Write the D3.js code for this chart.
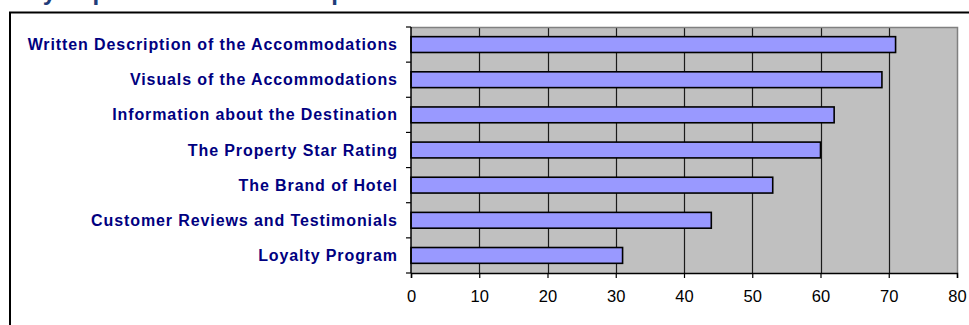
<!DOCTYPE html>
<html>
<head>
<meta charset="utf-8">
<script src="https://cdn.jsdelivr.net/npm/d3@7"></script>
<style>
  html, body { margin: 0; padding: 0; background: #fff; overflow: hidden; }
  svg { display: block; }
</style>
</head>
<body>
<svg id="chart" width="969" height="325"></svg>
<script>
const titleText = "Key Aspects of Hotel Descriptions";
const categories = [
  "Written Description of the Accommodations",
  "Visuals of the Accommodations",
  "Information about the Destination",
  "The Property Star Rating",
  "The Brand of Hotel",
  "Customer Reviews and Testimonials",
  "Loyalty Program"
];
const values = [71, 69, 62, 60, 53, 44, 31];
const xTicks = [0, 10, 20, 30, 40, 50, 60, 70, 80];

const svg = d3.select("#chart");
const W = 969, H = 325;
const plot = { left: 411, right: 957, top: 27, bottom: 273 };

// cropped title (only descenders visible, as in the reference)
svg.append("text")
  .attr("x", 12).attr("y", 0)
  .attr("font-family", "Liberation Sans, Arial, sans-serif")
  .attr("font-weight", "bold").attr("font-size", 24)
  .attr("fill", "#1F3D7A")
  .text(titleText);

// outer frame
svg.append("rect")
  .attr("x", 10).attr("y", 12.5)
  .attr("width", W + 20).attr("height", H + 20)
  .attr("fill", "none").attr("stroke", "#000").attr("stroke-width", 2);

const x = d3.scaleLinear().domain([0, 80]).range([plot.left, plot.right]);
const y = d3.scaleBand().domain(categories).range([plot.top, plot.bottom])
  .paddingInner(0.55).paddingOuter(0.275);

// plot background
svg.append("rect")
  .attr("x", x(0)).attr("y", plot.top)
  .attr("width", x(80) - x(0)).attr("height", plot.bottom - plot.top)
  .attr("fill", "#C0C0C0");

// gridlines
svg.append("g").selectAll("line")
  .data(xTicks.filter(d => d > 0 && d < 80))
  .join("line")
  .attr("x1", d => Math.round(x(d)) + 0.5).attr("x2", d => Math.round(x(d)) + 0.5)
  .attr("y1", plot.top).attr("y2", plot.bottom)
  .attr("stroke", "#1a1a1a").attr("stroke-width", 1.2);

// plot border (top/right gray)
svg.append("path")
  .attr("d", `M${x(0)},${plot.top + 0.5}H${Math.round(x(80)) + 0.5}V${plot.bottom}`)
  .attr("fill", "none").attr("stroke", "#808080").attr("stroke-width", 1.5);

// bars
svg.append("g").selectAll("rect")
  .data(values)
  .join("rect")
  .attr("x", x(0))
  .attr("y", (d, i) => y(categories[i]))
  .attr("width", d => x(d) - x(0))
  .attr("height", y.bandwidth())
  .attr("fill", "#9999FF")
  .attr("stroke", "#000").attr("stroke-width", 1.6);

// x axis
const xAxis = d3.axisBottom(x).tickValues(xTicks).tickSize(5).tickPadding(12);
const gx = svg.append("g").attr("transform", `translate(0,${plot.bottom})`).call(xAxis);
gx.select(".domain").attr("stroke", "#000").attr("stroke-width", 1.5);
gx.selectAll(".tick line").attr("stroke", "#000").attr("stroke-width", 1.2);
gx.selectAll(".tick text")
  .attr("font-family", "Liberation Sans, Arial, sans-serif")
  .attr("font-size", 16.5).attr("fill", "#000");

// y axis line and ticks at band boundaries
const bounds = d3.range(categories.length + 1).map(i => plot.top + i * (plot.bottom - plot.top) / categories.length);
svg.append("line")
  .attr("x1", x(0)).attr("x2", x(0))
  .attr("y1", plot.top).attr("y2", plot.bottom)
  .attr("stroke", "#000").attr("stroke-width", 1.5);
svg.append("g").selectAll("line")
  .data(bounds)
  .join("line")
  .attr("x1", x(0) - 5).attr("x2", x(0))
  .attr("y1", d => d).attr("y2", d => d)
  .attr("stroke", "#000").attr("stroke-width", 1.2);

// category labels
svg.append("g").selectAll("text")
  .data(categories)
  .join("text")
  .attr("x", 397.9)
  .attr("y", d => y(d) + y.bandwidth() / 2)
  .attr("dy", "0.35em")
  .attr("text-anchor", "end")
  .attr("font-family", "Liberation Sans, Arial, sans-serif")
  .attr("font-weight", "bold").attr("font-size", 16)
  .attr("letter-spacing", "0.9px")
  .attr("fill", "#000080")
  .text(d => d);
</script>
</body>
</html>
